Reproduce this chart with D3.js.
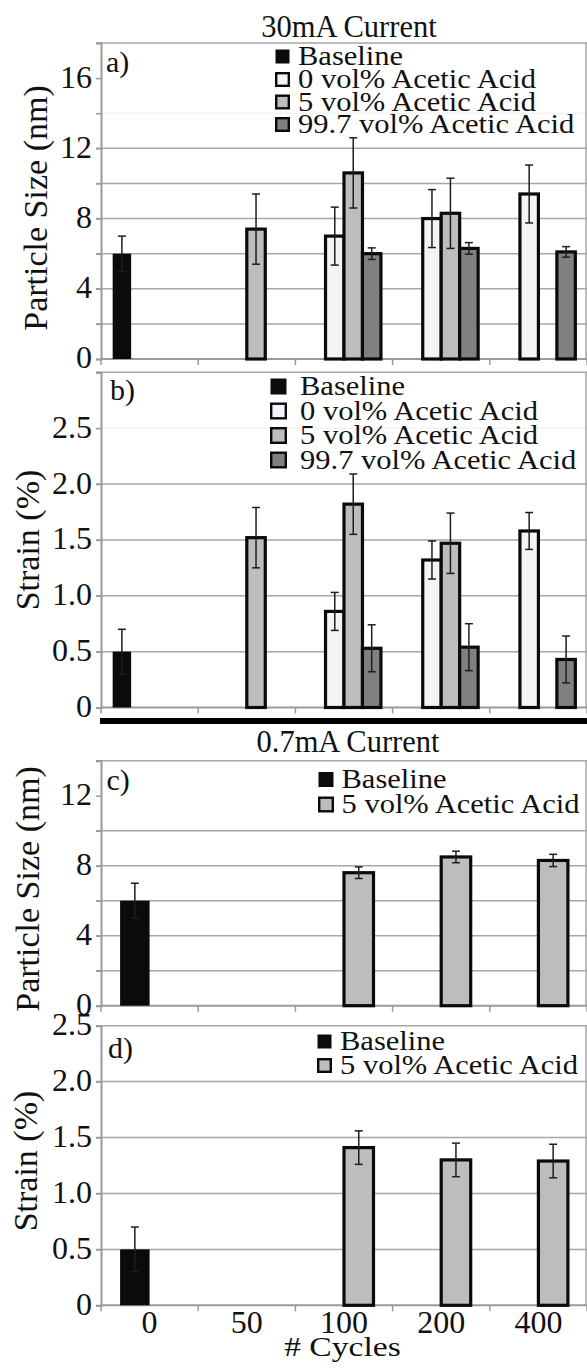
<!DOCTYPE html>
<html>
<head>
<meta charset="utf-8">
<script src="https://cdn.jsdelivr.net/npm/d3@7"></script>
<style>
  html, body { margin: 0; padding: 0; background: #fff; }
  svg { display: block; }
  svg text { font-family: "Liberation Serif", "DejaVu Serif", "Tinos", "Times New Roman", "Nimbus Roman", "FreeSerif", serif; fill: #111; }
</style>
</head>
<body>
<svg id="chart" width="587" height="1369"></svg>
<script>
// ---- data ----
const categories = ["0", "50", "100", "200", "400"];
const series30 = ["Baseline", "0 vol% Acetic Acid", "5 vol% Acetic Acid", "99.7 vol% Acetic Acid"];
const series07 = ["Baseline", "5 vol% Acetic Acid"];

// 30 mA, particle size (nm)
const sizeBaseline30 = [6.0, null, null, null, null];
const sizeBaseline30Err = [1.0, null, null, null, null];
const size0vol30 = [null, null, 7.0, 8.0, 9.4];
const size0vol30Err = [null, null, 1.65, 1.65, 1.65];
const size5vol30 = [null, 7.4, 10.6, 8.3, null];
const size5vol30Err = [null, 2.0, 2.0, 2.0, null];
const size997vol30 = [null, null, 6.0, 6.3, 6.1];
const size997vol30Err = [null, null, 0.33, 0.33, 0.3];

// 30 mA, strain (%)
const strainBaseline30 = [0.5, null, null, null, null];
const strainBaseline30Err = [0.2, null, null, null, null];
const strain0vol30 = [null, null, 0.86, 1.32, 1.58];
const strain0vol30Err = [null, null, 0.17, 0.17, 0.165];
const strain5vol30 = [null, 1.52, 1.82, 1.47, null];
const strain5vol30Err = [null, 0.27, 0.27, 0.27, null];
const strain997vol30 = [null, null, 0.53, 0.54, 0.43];
const strain997vol30Err = [null, null, 0.21, 0.21, 0.21];

// 0.7 mA, particle size (nm)
const sizeBaseline07 = [6.0, null, null, null, null];
const sizeBaseline07Err = [1.0, null, null, null, null];
const size5vol07 = [null, null, 7.6, 8.5, 8.3];
const size5vol07Err = [null, null, 0.33, 0.33, 0.35];

// 0.7 mA, strain (%)
const strainBaseline07 = [0.5, null, null, null, null];
const strainBaseline07Err = [0.2, null, null, null, null];
const strain5vol07 = [null, null, 1.41, 1.30, 1.29];
const strain5vol07Err = [null, null, 0.15, 0.15, 0.15];

// ---- styles ----
const serif = '"Liberation Serif", "DejaVu Serif", "Tinos", "Times New Roman", "Nimbus Roman", "FreeSerif", serif';
const fills = {
  "Baseline": "#0b0b0d",
  "0 vol% Acetic Acid": "#f3f4f7",
  "5 vol% Acetic Acid": "#bdbdbd",
  "99.7 vol% Acetic Acid": "#808080"
};
const gridColor = "#a6a6a6";
const axisColor = "#9a9a9a";
const legendStretch = 1.13;   // legend type is set wide

const svg = d3.select("#chart");
const left = 101, right = 587;

const x = d3.scaleBand().domain(categories).range([left, right]).paddingInner(0).paddingOuter(0);

// stretch a text element horizontally by a factor, keeping its anchor
function widen(sel, k) {
  sel.each(function () {
    const w = this.getComputedTextLength();
    d3.select(this).attr("textLength", w * k).attr("lengthAdjust", "spacingAndGlyphs");
  });
}

const panels = [
  {
    label: "a)", yTitle: "Particle Size (nm)", max: 18, step: 2, labelEvery: 4,
    top: 43, bottom: 359, hidden: [16], faint: [14],
    series: series30, groupFrac: 0.76,
    values: [sizeBaseline30, size0vol30, size5vol30, size997vol30],
    errors: [sizeBaseline30Err, size0vol30Err, size5vol30Err, size997vol30Err],
    fmt: d => d3.format("d")(d),
    titlePos: [47, 208], labelPos: [106, 72],
    legend: { sx: 275, size: 15, tx: 298, base: [65, 88, 110.5, 133] }
  },
  {
    label: "b)", yTitle: "Strain (%)", max: 3, step: 0.5, labelEvery: 0.5,
    top: 372.3, bottom: 707.5, hidden: [], faint: [2.5],
    series: series30, groupFrac: 0.76,
    values: [strainBaseline30, strain0vol30, strain5vol30, strain997vol30],
    errors: [strainBaseline30Err, strain0vol30Err, strain5vol30Err, strain997vol30Err],
    fmt: d => d === 0 ? "0" : d3.format(".1f")(d),
    skipTopLabel: true,
    titlePos: [39, 540], labelPos: [110, 400],
    legend: { sx: 270, size: 17, tx: 300, base: [395, 419.5, 444, 468.5] }
  },
  {
    label: "c)", yTitle: "Particle Size (nm)", max: 14, step: 2, labelEvery: 4,
    top: 760.7, bottom: 1005.7, hidden: [12], faint: [],
    series: series07, groupFrac: 0.607,
    values: [sizeBaseline07, size5vol07],
    errors: [sizeBaseline07Err, size5vol07Err],
    fmt: d => d3.format("d")(d),
    titlePos: [38.5, 889], labelPos: [106.5, 790],
    legend: { sx: 318, size: 16, tx: 341.5, base: [788, 813] }
  },
  {
    label: "d)", yTitle: "Strain (%)", max: 2.5, step: 0.5, labelEvery: 0.5,
    top: 1025.7, bottom: 1305.3, hidden: [], faint: [],
    series: series07, groupFrac: 0.607,
    values: [strainBaseline07, strain5vol07],
    errors: [strainBaseline07Err, strain5vol07Err],
    fmt: d => d === 0 ? "0" : d3.format(".1f")(d),
    titlePos: [37, 1161], labelPos: [108, 1058],
    legend: { sx: 317, size: 15, tx: 340, base: [1050, 1074] },
    xLabels: true
  }
];

const near = (a, b) => Math.abs(a - b) < 1e-6;

panels.forEach(p => {
  const g = svg.append("g");
  const y = d3.scaleLinear().domain([0, p.max]).range([p.bottom, p.top]);
  const ticks = d3.range(0, p.max + p.step / 2, p.step);

  // horizontal grid lines (top one doubles as the frame)
  ticks.filter(t => t > 0 && !p.hidden.some(h => near(h, t))).forEach(t => {
    const faint = p.faint.some(f => near(f, t));
    g.append("line")
      .attr("x1", left - 5).attr("x2", right)
      .attr("y1", y(t)).attr("y2", y(t))
      .attr("stroke", faint ? "#ececec" : gridColor)
      .attr("stroke-width", faint ? 1 : 1.5);
  });

  // right frame
  g.append("line")
    .attr("x1", right - 1).attr("x2", right - 1)
    .attr("y1", p.top).attr("y2", p.bottom)
    .attr("stroke", gridColor).attr("stroke-width", 1.5);

  // y axis
  const yAxis = d3.axisLeft(y)
    .tickValues(ticks)
    .tickSize(5)
    .tickPadding(4)
    .tickFormat(d => {
      const isLab = near(d / p.labelEvery, Math.round(d / p.labelEvery));
      if (!isLab) return "";
      if (p.skipTopLabel && near(d, p.max)) return "";
      return p.fmt(d);
    });
  const ya = g.append("g").attr("transform", `translate(${left},0)`).call(yAxis);
  ya.attr("font-family", serif).attr("font-size", 32);
  ya.select(".domain").attr("stroke", axisColor).attr("stroke-width", 2);
  ya.selectAll(".tick line").attr("stroke", axisColor).attr("stroke-width", 1.5);
  ya.selectAll(".tick text")
    .attr("font-size", 32)
    .attr("fill", "#111")
    .style("font-family", serif)
    .attr("dy", "0.28em");

  // x axis baseline with boundary ticks
  g.append("line")
    .attr("x1", left).attr("x2", right)
    .attr("y1", p.bottom).attr("y2", p.bottom)
    .attr("stroke", axisColor).attr("stroke-width", 2);
  const bounds = categories.map(c => x(c)).concat([x(categories[categories.length - 1]) + x.bandwidth()]);
  g.selectAll(".xtick").data(bounds).enter().append("line")
    .attr("x1", d => d).attr("x2", d => d)
    .attr("y1", p.bottom).attr("y2", p.bottom + 6)
    .attr("stroke", axisColor).attr("stroke-width", 1.5);

  // bars
  const bw = x.bandwidth();
  const x1 = d3.scaleBand().domain(p.series)
    .range([bw * (1 - p.groupFrac) / 2, bw * (1 + p.groupFrac) / 2]);

  p.series.forEach((s, si) => {
    const recs = categories.map((c, ci) => ({ c, v: p.values[si][ci], e: p.errors[si][ci] }))
      .filter(d => d.v != null);
    const isBase = s === "Baseline";
    g.selectAll(null).data(recs).enter().append("rect")
      .attr("x", d => x(d.c) + x1(s))
      .attr("width", x1.bandwidth())
      .attr("y", d => y(d.v))
      .attr("height", d => y(0) - y(d.v))
      .attr("fill", fills[s])
      .attr("stroke", isBase ? "none" : "#0a0a0a")
      .attr("stroke-width", 3.2);

    // error bars
    const eg = g.selectAll(null).data(recs).enter().append("g")
      .attr("stroke", "#1e1e1e").attr("stroke-width", 1.5);
    const cx = d => x(d.c) + x1(s) + x1.bandwidth() / 2;
    eg.append("line")
      .attr("x1", cx).attr("x2", cx)
      .attr("y1", d => y(d.v + d.e)).attr("y2", d => y(Math.max(0, d.v - d.e)));
    eg.append("line")
      .attr("x1", d => cx(d) - 4).attr("x2", d => cx(d) + 4)
      .attr("y1", d => y(d.v + d.e)).attr("y2", d => y(d.v + d.e));
    eg.append("line")
      .attr("x1", d => cx(d) - 4).attr("x2", d => cx(d) + 4)
      .attr("y1", d => y(Math.max(0, d.v - d.e))).attr("y2", d => y(Math.max(0, d.v - d.e)));
  });

  // legend
  const L = p.legend;
  p.series.forEach((s, i) => {
    const isBase = s === "Baseline";
    const cy = L.base[i] - 8.5;
    g.append("rect")
      .attr("x", L.sx + (isBase ? 0.5 : 1.2))
      .attr("y", cy - L.size / 2 + (isBase ? 0.5 : 1.2))
      .attr("width", L.size - (isBase ? 1 : 2.4))
      .attr("height", L.size - (isBase ? 1 : 2.4))
      .attr("fill", fills[s])
      .attr("stroke", isBase ? "none" : "#0a0a0a")
      .attr("stroke-width", 2.4);
    g.append("text")
      .attr("x", L.tx).attr("y", L.base[i])
      .attr("font-size", 27)
      .style("font-family", serif)
      .text(s)
      .call(widen, legendStretch);
  });

  // panel letter
  g.append("text")
    .attr("x", p.labelPos[0]).attr("y", p.labelPos[1])
    .attr("font-size", 30)
    .style("font-family", serif)
    .text(p.label);

  // y title
  g.append("text")
    .attr("transform", `translate(${p.titlePos[0]},${p.titlePos[1]}) rotate(-90)`)
    .attr("text-anchor", "middle")
    .attr("font-size", 34)
    .style("font-family", serif)
    .text(p.yTitle);

  // category labels on the last panel
  if (p.xLabels) {
    g.selectAll(".xl").data(categories).enter().append("text")
      .attr("x", d => x(d) + bw / 2)
      .attr("y", p.bottom + 28)
      .attr("text-anchor", "middle")
      .attr("font-size", 32)
      .style("font-family", serif)
      .text(d => d);
  }
});

// section headings
svg.append("text").attr("x", 349).attr("y", 36.5).attr("text-anchor", "middle")
  .attr("font-size", 30.5).style("font-family", serif).text("30mA Current");
svg.append("text").attr("x", 348).attr("y", 751.5).attr("text-anchor", "middle")
  .attr("font-size", 30.5).style("font-family", serif).text("0.7mA Current");

// divider between the two current sections
svg.append("rect").attr("x", 100).attr("y", 718).attr("width", right - 100).attr("height", 6)
  .attr("fill", "#000");

// x title
svg.append("text").attr("x", 342.5).attr("y", 1356).attr("text-anchor", "middle")
  .attr("font-size", 28).style("font-family", serif).text("# Cycles")
  .call(widen, 1.2);
</script>
</body>
</html>
